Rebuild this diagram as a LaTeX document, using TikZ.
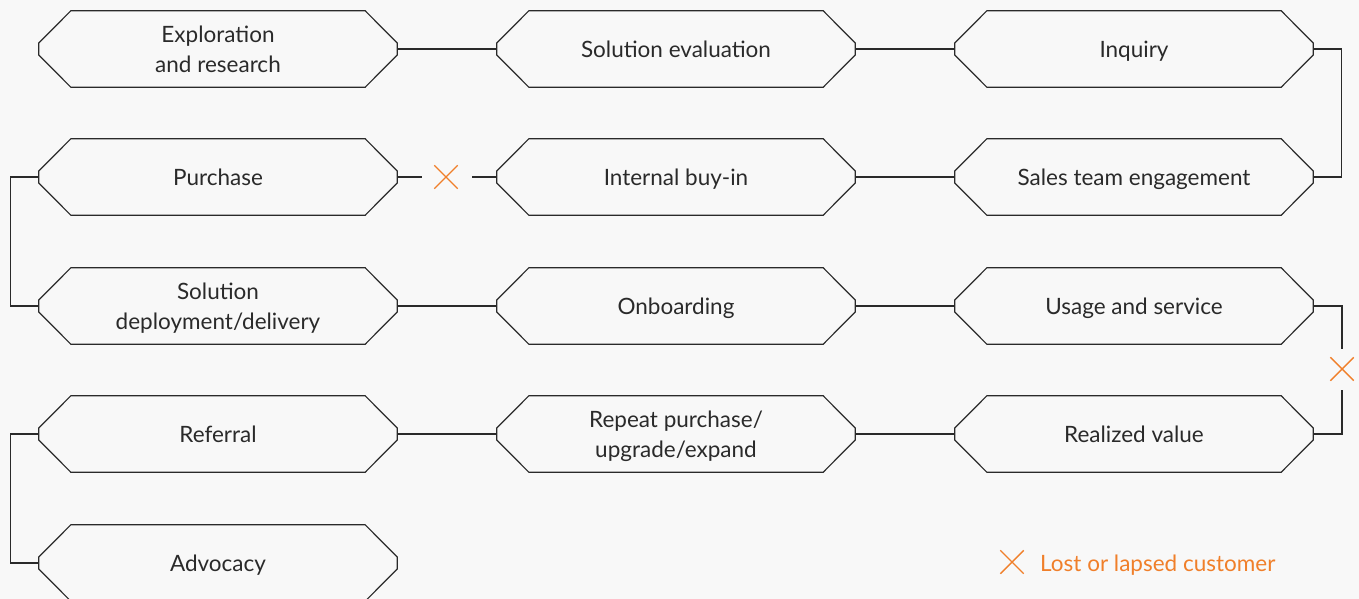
\documentclass[tikz,border=0pt]{standalone}
\usepackage{fontspec}
\setmainfont{Lato}
\usetikzlibrary{shapes.misc}
\definecolor{bg}{HTML}{F8F8F8}
\definecolor{ink}{HTML}{2A2A2A}
\definecolor{lost}{HTML}{F07F2A}
\begin{document}
\begin{tikzpicture}[x=1pt,y=-1pt,
  stage/.style={rectangle,minimum width=358pt,minimum height=76pt,inner sep=0pt,
    align=center,text=ink,text depth=-3pt,font=\fontsize{22.5}{29.5}\selectfont},
  outline/.style={draw=ink,line width=1.2pt,line join=miter},
  link/.style={draw=ink,line width=1.2pt},
  lostmark/.style={cross out,draw=lost,line width=1.4pt,minimum width=22pt,minimum height=22pt,inner sep=0pt}]
\fill[bg] (0,0) rectangle (1359,599);
\useasboundingbox (0,0) rectangle (1359,599);
\begin{scope}
\clip (0,0) rectangle (1359,599);
% stages, row by row
\node[stage] (explore) at (218,49) {Exploration\\and research};
\node[stage] (evaluate) at (676,49) {Solution evaluation};
\node[stage] (inquiry) at (1134,49) {Inquiry};
\node[stage] (purchase) at (218,177) {Purchase};
\node[stage] (buyin) at (676,177) {Internal buy-in};
\node[stage] (sales) at (1134,177) {Sales team engagement};
\node[stage] (deploy) at (218,306) {Solution\\deployment/delivery};
\node[stage] (onboard) at (676,306) {Onboarding};
\node[stage] (usage) at (1134,306) {Usage and service};
\node[stage] (referral) at (218,434) {Referral};
\node[stage] (repeat) at (676,434) {Repeat purchase/\\upgrade/expand};
\node[stage] (value) at (1134,434) {Realized value};
\node[stage] (advocacy) at (218,563) {Advocacy};
% stretched-hexagon outlines around every stage
\foreach \n in {explore,evaluate,inquiry,purchase,buyin,sales,deploy,onboard,usage,referral,repeat,value,advocacy}
  \draw[outline] ([yshift=6pt]\n.west) -- ([xshift=32pt]\n.north west) -- ([xshift=-32pt]\n.north east)
    -- ([yshift=6pt]\n.east) -- ([yshift=-6pt]\n.east) -- ([xshift=-32pt]\n.south east)
    -- ([xshift=32pt]\n.south west) -- ([yshift=-6pt]\n.west) -- cycle;
% lost-customer marks
\node[lostmark] (lost1) at (446,177) {};
\node[lostmark] (lost2) at (1342,369) {};
% connectors
\draw[link] (explore.east) -- (evaluate.west);
\draw[link] (evaluate.east) -- (inquiry.west);
\draw[link] (inquiry.east) -- ++(28,0) |- (sales.east);
\draw[link] (sales.west) -- (buyin.east);
\draw[link] (buyin.west) -- ([xshift=14pt]lost1.east);
\draw[link] (purchase.east) -- ([xshift=-12pt]lost1.west);
\draw[link] (purchase.west) -- ++(-28,0) |- (deploy.west);
\draw[link] (deploy.east) -- (onboard.west);
\draw[link] (onboard.east) -- (usage.west);
\draw[link] (usage.east) -| ([yshift=8pt]lost2.north);
\draw[link] (value.east) -| ([yshift=-9pt]lost2.south);
\draw[link] (value.west) -- (repeat.east);
\draw[link] (repeat.west) -- (referral.east);
\draw[link] (referral.west) -- ++(-28,0) |- (advocacy.west);
\end{scope}
% legend
\node[lostmark] (legendmark) at (1012,562) {};
\node[anchor=west,text=lost,font=\fontsize{22.5}{27}\selectfont,inner sep=0pt,text depth=0pt] (legendtext) at (1040,563) {Lost or lapsed customer};
\end{tikzpicture}
\end{document}
